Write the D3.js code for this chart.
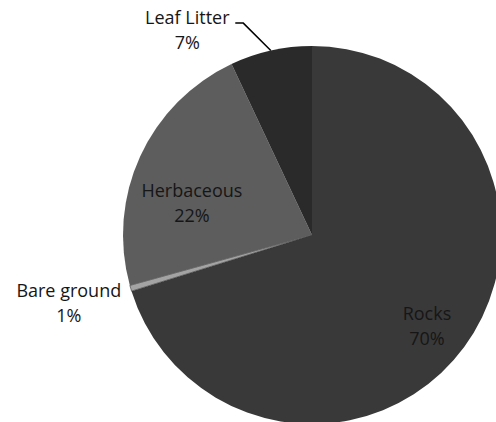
<!DOCTYPE html>
<html>
<head>
<meta charset="utf-8">
<script src="https://cdn.jsdelivr.net/npm/d3@7"></script>
<style>
  body { margin: 0; background: #fff; }
  svg { display: block; }
  .lbl { font-family: "Open Sans", sans-serif; font-size: 18px; fill: #161616; }
</style>
</head>
<body>
<svg width="496" height="422"></svg>
<script>
"use strict";

const categories = ["Rocks", "Bare ground", "Herbaceous", "Leaf Litter"];
const values = [70.2, 0.5, 22.3, 7.0];
const percentLabels = ["70%", "1%", "22%", "7%"];
const colors = ["#393939", "#a3a3a3", "#5d5d5d", "#2a2a2a"];

const svg = d3.select("svg");
const cx = 312, cy = 235, radius = 189;

const data = categories.map((c, i) => ({ name: c, value: values[i], pct: percentLabels[i], color: colors[i] }));

const pie = d3.pie().sort(null).value(d => d.value);
const arc = d3.arc().innerRadius(0).outerRadius(radius);

const g = svg.append("g").attr("transform", `translate(${cx},${cy})`);

const arcs = pie(data);

g.selectAll("path")
  .data(arcs)
  .enter()
  .append("path")
  .attr("d", arc)
  .attr("fill", d => d.data.color)
  .attr("stroke", d => d.data.name === "Bare ground" ? "#333" : "none")
  .attr("stroke-width", 0.6);

// label placement (polar, relative to pie centre): [radius, angle in degrees]
const labelPos = {
  "Rocks": [143, 126.5],
  "Herbaceous": [126, 287.6],
  "Bare ground": [251, 255.7],
  "Leaf Litter": [245, 329.4]
};

const polar = (r, deg) => {
  const a = deg * Math.PI / 180;
  return [r * Math.sin(a), -r * Math.cos(a)];
};

arcs.forEach(d => {
  const [r, deg] = labelPos[d.data.name];
  const [x, y] = polar(r, deg);
  const t = g.append("text")
    .attr("class", "lbl")
    .attr("text-anchor", "middle")
    .attr("x", x)
    .attr("y", y);
  t.append("tspan").attr("x", x).text(d.data.name);
  t.append("tspan").attr("x", x).attr("dy", 25).text(d.data.pct);
});

// leader line for Leaf Litter
const leaf = arcs[3];
const mid = (leaf.startAngle + leaf.endAngle) / 2;
const rim = [radius * Math.sin(mid), -radius * Math.cos(mid)];
const [lx, ly] = polar(...labelPos["Leaf Litter"]);
g.append("path")
  .attr("fill", "none")
  .attr("stroke", "#000")
  .attr("stroke-width", 1.5)
  .attr("d", d3.line()([[lx + 48, ly - 1], [lx + 56, ly - 1], rim]));
</script>
</body>
</html>
